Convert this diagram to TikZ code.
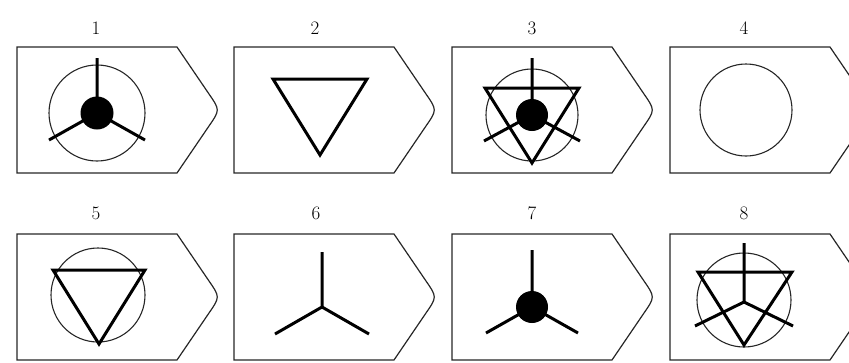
\documentclass[tikz,border=0pt]{standalone}
\usepackage{fontspec}
\usepackage{tikz}
\usetikzlibrary{calc}

\begin{document}
\begin{tikzpicture}[x=1pt,y=-1pt,
  panel/.style={draw=black!85,line width=1.2pt,line join=miter},
  ring/.style={draw=black!85,line width=1.1pt},
  tri/.style={draw=black,line width=3pt,line join=miter},
  spoke/.style={draw=black,line width=3pt},
  dot/.style={fill=black},
  num/.style={font=\fontsize{19}{23}\selectfont,color=black}
]
\useasboundingbox (0,0) rectangle (849,362);

% Panel outlines: flat box with a rounded point on the right.
\foreach \L/\T in {17/47,234/47,452/47,670/47,17/234,234/234,452/234,670/234}{
  \draw[panel] (\L,\T) -- (\L+160,\T) -- (\L+192,\T+47)
    .. controls (\L+203,\T+63) .. (\L+192,\T+79)
    -- (\L+160,\T+126) -- (\L,\T+126) -- cycle;
}

% Numbers over the panels.
\node[num] (n1) at (96,28) {1};
\node[num] (n2) at (315,28) {2};
\node[num] (n3) at (532,28) {3};
\node[num] (n4) at (744,28) {4};
\node[num] (n5) at (96,213) {5};
\node[num] (n6) at (316,213) {6};
\node[num] (n7) at (532,213) {7};
\node[num] (n8) at (744,213) {8};

% Panel 1: ring, three spokes, dot.
\draw[ring] (97,113) circle (48);
\draw[spoke] (97,58) -- (97,113) -- (49,140);
\draw[spoke] (97,113) -- (145,140);
\fill[dot] (97,113) circle (16.5);

% Panel 2: triangle.
\draw[tri] (273,79) -- (367,79) -- (320,155) -- cycle;

% Panel 3: ring, triangle, spokes, dot.
\draw[ring] (532,115) circle (46);
\draw[tri] (485,88) -- (579,88) -- (532,163) -- cycle;
\draw[spoke] (532,58) -- (532,115) -- (484,141);
\draw[spoke] (532,115) -- (580,141);
\fill[dot] (532,115) circle (16);

% Panel 4: ring.
\draw[ring] (746,110) circle (46);

% Panel 5: ring and triangle.
\draw[ring] (98,295) circle (47);
\draw[tri] (53,270) -- (145,270) -- (99,344) -- cycle;

% Panel 6: spokes.
\draw[spoke] (322,252) -- (322,307) -- (275,334);
\draw[spoke] (322,307) -- (369,334);

% Panel 7: spokes and dot.
\draw[spoke] (532,250) -- (532,307) -- (486,333);
\draw[spoke] (532,307) -- (578,333);
\fill[dot] (532,307) circle (16);

% Panel 8: ring, triangle, spokes.
\draw[ring] (744,300) circle (47);
\draw[tri] (698,272) -- (792,272) -- (744,345) -- cycle;
\draw[spoke] (744,243) -- (744,302) -- (695,326);
\draw[spoke] (744,302) -- (793,326);
\end{tikzpicture}
\end{document}
